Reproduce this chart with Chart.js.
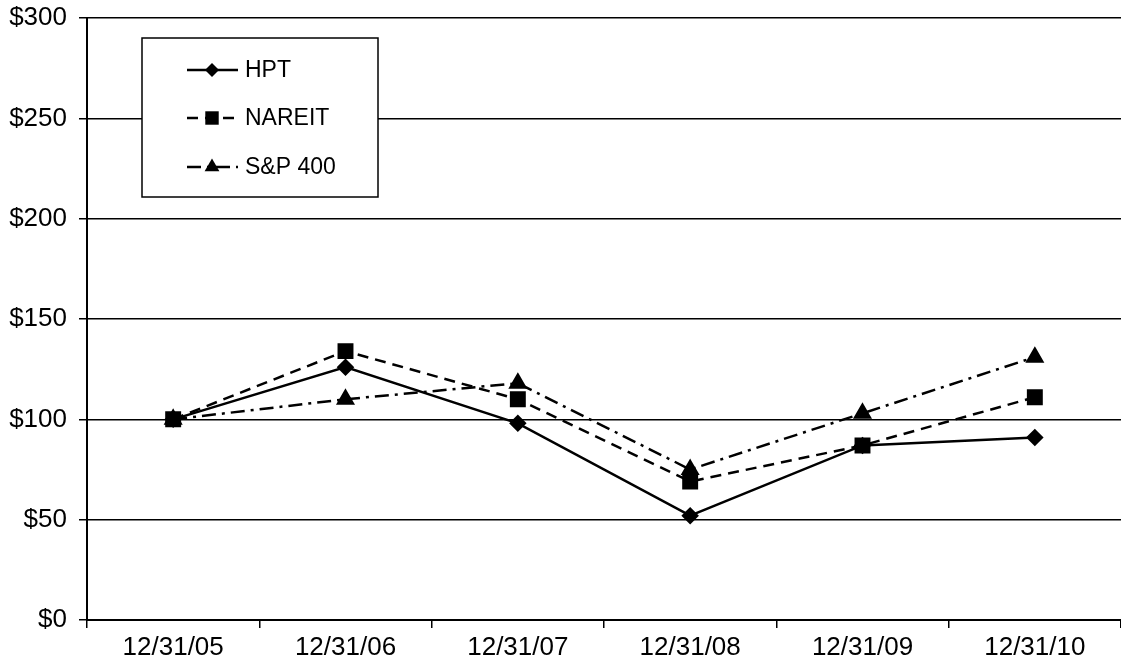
<!DOCTYPE html>
<html>
<head>
<meta charset="utf-8">
<script src="https://cdn.jsdelivr.net/npm/chart.js@4.4.1/dist/chart.umd.min.js"></script>
<style>
  html, body { margin: 0; padding: 0; background: #fff; overflow: hidden; }
  #wrap { width: 1121px; height: 671px; position: relative; }
  canvas { display: block; }
</style>
</head>
<body>
<div id="wrap"><canvas id="perfChart"></canvas></div>
<script>
// Data
const categories = ['12/31/05', '12/31/06', '12/31/07', '12/31/08', '12/31/09', '12/31/10'];
const seriesNames = ['HPT', 'NAREIT', 'S&P 400'];
const hptValues = [100, 126, 98, 52, 87, 91];
const nareitValues = [100, 134, 110, 69, 87, 111];
const spValues = [100, 110, 118, 75, 103, 131];
const yMin = 0;
const yMax = 300;
const yStep = 50;

const FONT = '"Liberation Sans", Arial, Helvetica, sans-serif';

// draws a marker in the legend box
function drawMarker(ctx, style, x, y, r) {
    ctx.beginPath();
    if (style === 'rectRot') {
        ctx.moveTo(x, y - r);
        ctx.lineTo(x + r, y);
        ctx.lineTo(x, y + r);
        ctx.lineTo(x - r, y);
    } else if (style === 'rect') {
        const s = Math.SQRT1_2 * r;
        ctx.rect(x - s, y - s, 2 * s, 2 * s);
    } else {
        const h = r * 1.5;
        ctx.moveTo(x, y - h * 0.66);
        ctx.lineTo(x + r * 0.87, y + h * 0.34);
        ctx.lineTo(x - r * 0.87, y + h * 0.34);
    }
    ctx.closePath();
    ctx.fill();
}

// Legend box sitting inside the plot area
const boxLegend = {
    id: 'boxLegend',
    afterDraw(chart) {
        const ctx = chart.ctx;
        ctx.save();
        ctx.fillStyle = '#fff';
        ctx.fillRect(142, 38, 236, 159);
        ctx.strokeStyle = '#000';
        ctx.lineWidth = 1.5;
        ctx.strokeRect(142, 38, 236, 159);

        const rows = [70, 118, 167];
        chart.data.datasets.forEach(function (ds, i) {
            const y = rows[i];
            ctx.strokeStyle = '#000';
            ctx.lineWidth = ds.borderWidth;
            ctx.setLineDash(ds.borderDash || []);
            ctx.beginPath();
            ctx.moveTo(187, y);
            ctx.lineTo(238, y);
            ctx.stroke();
            ctx.setLineDash([]);
            ctx.fillStyle = '#000';
            drawMarker(ctx, ds.pointStyle, 212, y, ds.pointRadius);
            ctx.font = '23px ' + FONT;
            ctx.textBaseline = 'middle';
            ctx.textAlign = 'left';
            ctx.fillText(ds.label, 245, y + 1);
        });
        ctx.restore();
    }
};

const ctx = document.getElementById('perfChart').getContext('2d');
new Chart(ctx, {
    type: 'line',
    data: {
        labels: categories,
        datasets: [
            {
                label: seriesNames[0],
                data: hptValues,
                borderColor: '#000',
                backgroundColor: '#000',
                borderWidth: 2.5,
                pointStyle: 'rectRot',
                pointRadius: 7
            },
            {
                label: seriesNames[1],
                data: nareitValues,
                borderColor: '#000',
                backgroundColor: '#000',
                borderWidth: 2.5,
                borderDash: [11, 7],
                pointStyle: 'rect',
                pointRadius: 9.5
            },
            {
                label: seriesNames[2],
                data: spValues,
                borderColor: '#000',
                backgroundColor: '#000',
                borderWidth: 2.5,
                borderDash: [14, 6, 3, 6],
                pointStyle: 'triangle',
                pointRadius: 8.5
            }
        ]
    },
    options: {
        responsive: true,
        maintainAspectRatio: false,
        animation: false,
        layout: {
            autoPadding: false,
            padding: { top: 18, right: 0, bottom: 0, left: 0 }
        },
        elements: {
            line: { tension: 0, fill: false },
            point: { borderWidth: 0, hoverRadius: 8 }
        },
        scales: {
            x: {
                offset: true,
                grid: {
                    offset: true,
                    drawOnChartArea: false,
                    drawTicks: true,
                    tickLength: 8,
                    color: '#000',
                    lineWidth: 1.5
                },
                border: { color: '#000', width: 2 },
                ticks: {
                    color: '#000',
                    padding: 4,
                    maxRotation: 0,
                    font: { family: FONT, size: 26 }
                },
                afterFit: function (scale) {
                    scale.height = 51;
                    scale.paddingLeft = 0;
                    scale.paddingRight = 0;
                }
            },
            y: {
                min: yMin,
                max: yMax,
                grid: {
                    color: '#000',
                    lineWidth: 1.5,
                    drawTicks: true,
                    tickLength: 8
                },
                border: { color: '#000', width: 2 },
                ticks: {
                    stepSize: yStep,
                    color: '#000',
                    padding: 12,
                    font: { family: FONT, size: 26 },
                    callback: function (v) { return '$' + v; }
                },
                afterFit: function (scale) {
                    scale.width = 87;
                    scale.paddingTop = 0;
                    scale.paddingBottom = 0;
                }
            }
        },
        plugins: {
            legend: { display: false },
            tooltip: { enabled: false }
        }
    },
    plugins: [boxLegend]
});
</script>
</body>
</html>
